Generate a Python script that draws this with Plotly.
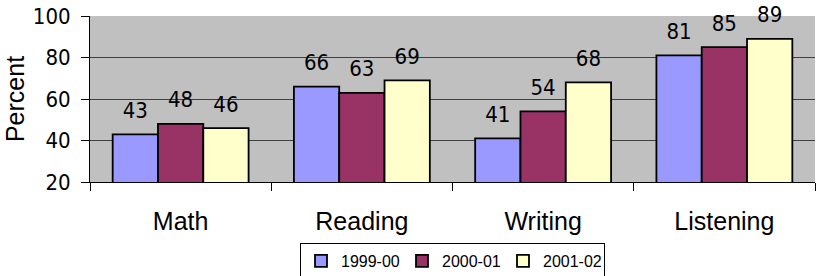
import plotly.graph_objects as go

categories = ["Math", "Reading", "Writing", "Listening"]
series_names = ["1999-00", "2000-01", "2001-02"]
values_1999 = [43, 66, 41, 81]
values_2000 = [48, 63, 54, 85]
values_2001 = [46, 69, 68, 89]
colors = ["#9999FF", "#993366", "#FFFFCC"]
y_ticks = [20, 40, 60, 80, 100]

all_values = [values_1999, values_2000, values_2001]
NARROW = "DejaVu Sans Condensed, Liberation Sans Narrow, Arial Narrow, sans-serif"

fig = go.Figure()
for name, vals, col in zip(series_names, all_values, colors):
    fig.add_trace(go.Bar(
        x=categories, y=vals, name=name, offsetgroup=name,
        marker=dict(color=col, line=dict(color="black", width=1.8)),
    ))
for name, vals in zip(series_names, all_values):
    fig.add_trace(go.Scatter(
        x=categories, y=vals, offsetgroup=name, mode="markers+text",
        text=[str(v) for v in vals], textposition="top center",
        marker=dict(size=16, opacity=0),
        textfont=dict(family=NARROW, size=22, color="black"),
        showlegend=False, hoverinfo="skip", cliponaxis=False,
    ))

fig.update_layout(
    width=822, height=276,
    margin=dict(l=90, r=7, t=16, b=94, autoexpand=False),
    paper_bgcolor="white", plot_bgcolor="#C0C0C0",
    barmode="group", bargap=0.25, bargroupgap=0,
    scattermode="group",
    font=dict(family="Liberation Sans, Arial, sans-serif", color="black"),
    legend=dict(
        orientation="h", x=0.5, xanchor="center", y=-0.367, yanchor="top",
        bordercolor="black", borderwidth=1, font=dict(size=16),
        itemwidth=30, tracegroupgap=0,
        entrywidth=56, entrywidthmode="pixels",
    ),
    showlegend=True,
)
fig.update_yaxes(
    range=[20, 100], tickvals=y_ticks,
    showgrid=True, gridcolor="#404040", gridwidth=1,
    showline=True, linecolor="black", linewidth=1,
    ticks="outside", ticklen=8, tickcolor="black",
    tickfont=dict(family=NARROW, size=22),
    ticklabelstandoff=6, ticklabeloverflow="allow",
    title=dict(text="Percent", font=dict(size=25), standoff=1),
    zeroline=False, automargin=False,
)
fig.update_xaxes(
    range=[-0.5, len(categories) - 0.5],
    showline=True, linecolor="black", linewidth=1,
    ticks="outside", ticklen=8, tickcolor="black", tickson="boundaries",
    tickfont=dict(size=25), ticklabelstandoff=17,
    automargin=False,
)

fig.write_html(
    "out.html",
    config={"displayModeBar": False},
    post_script="document.body.style.margin='0';document.body.style.overflow='hidden';",
)
